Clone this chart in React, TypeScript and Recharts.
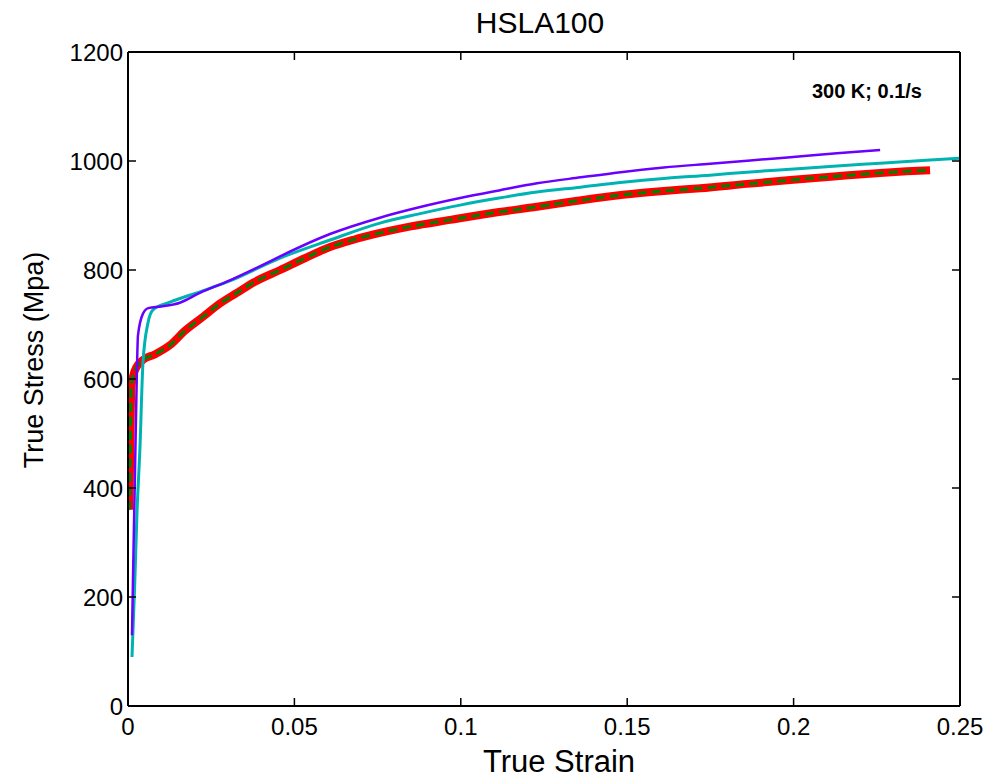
import React from "react"
import { LineChart, Line, XAxis, YAxis } from "recharts"

// experimental curve (thick red) and the model fit drawn over it (green dashes)
const expStrain = [0.0004, 0.0007, 0.001, 0.002, 0.0045, 0.008, 0.0126, 0.017, 0.0225, 0.0275, 0.0327, 0.038, 0.0457, 0.0533, 0.0607, 0.068, 0.0757, 0.085, 0.0968, 0.11, 0.1229, 0.135, 0.1487, 0.161, 0.172, 0.186, 0.199, 0.213, 0.226, 0.234, 0.241]
const expStress = [360, 480, 585, 615, 635, 645, 662, 688, 714, 738, 758, 778, 800, 822, 842, 856, 868, 880, 892, 905, 916, 927, 938, 945, 950, 958, 965, 972, 978, 981, 983]
const fitStress = [360, 480, 585, 615, 635, 645, 662, 688, 714, 738, 758, 778, 800, 822, 842, 856, 868, 880, 892, 905, 916, 927, 938, 945, 950, 958, 965, 972, 978, 981, 983]

const purpleStrain = [0.0012, 0.0017, 0.0021, 0.0025, 0.003, 0.0045, 0.0061, 0.01, 0.0156, 0.0216, 0.0306, 0.0427, 0.0457, 0.0607, 0.0757, 0.0875, 0.0998, 0.1115, 0.1229, 0.136, 0.1487, 0.161, 0.1749, 0.187, 0.199, 0.213, 0.226]
const purpleStress = [130, 300, 430, 560, 680, 720, 730, 733, 740, 758, 781, 816, 825, 866, 896, 915, 932, 946, 959, 970, 980, 988, 995, 1001, 1007, 1014, 1020]

const cyanStrain = [0.0012, 0.002, 0.0027, 0.0036, 0.0045, 0.006, 0.0075, 0.0126, 0.0216, 0.0306, 0.0457, 0.0607, 0.0757, 0.0875, 0.0998, 0.1115, 0.1229, 0.136, 0.1487, 0.161, 0.1749, 0.187, 0.199, 0.213, 0.226, 0.241, 0.25]
const cyanStress = [90, 220, 354, 475, 630, 703, 727, 741, 760, 780, 822, 855, 886, 903, 919, 932, 943, 952, 961, 968, 974, 980, 985, 991, 996, 1002, 1005]

const xTicks = [0, 0.05, 0.1, 0.15, 0.2, 0.25]
const yTicks = [0, 200, 400, 600, 800, 1000, 1200]

const zip = (xs: number[], ys: number[]) => xs.map((x, i) => ({ x, y: ys[i] }))

const font = "'Liberation Sans', Arial, sans-serif"
const axisLine = { stroke: "#000", strokeWidth: 2 }
const TICK_LEN = 8

// matlab-style ticks: short lines pointing into the plot, labels outside
function LeftTick({ x, y, payload }: any) {
  return (
    <g>
      <line x1={x + 5} x2={x + 5 + TICK_LEN} y1={y} y2={y} stroke="#000" strokeWidth={1.5} />
      <text x={x} y={y} dy="0.36em" textAnchor="end" fontSize={24} fontFamily={font} fill="#000">
        {payload.value}
      </text>
    </g>
  )
}

function BottomTick({ x, y, payload }: any) {
  return (
    <g>
      <line x1={x} x2={x} y1={y - 12} y2={y - 12 - TICK_LEN} stroke="#000" strokeWidth={1.5} />
      <text x={x} y={y} dy="0.71em" textAnchor="middle" fontSize={24} fontFamily={font} fill="#000">
        {String(Number(Number(payload.value).toFixed(2)))}
      </text>
    </g>
  )
}

function TopTick({ x, y }: any) {
  return <line x1={x} x2={x} y1={y} y2={y + TICK_LEN} stroke="#000" strokeWidth={1.5} />
}

function RightTick({ x, y }: any) {
  return <line x1={x} x2={x - TICK_LEN} y1={y} y2={y} stroke="#000" strokeWidth={1.5} />
}

export default function App() {
  return (
    <div style={{ position: "absolute", left: 0, top: 0, width: 986, height: 780, background: "#fff" }}>
      <LineChart width={986} height={780} margin={{ top: 0, right: 0, left: 0, bottom: 0 }}>
        <XAxis
          xAxisId="main"
          dataKey="x"
          type="number"
          domain={[0, 0.25]}
          ticks={xTicks}
          allowDataOverflow
          height={74}
          tickSize={0}
          tickMargin={12}
          axisLine={axisLine}
          tickLine={false}
          tick={<BottomTick />}
        />
        <XAxis
          xAxisId="top"
          orientation="top"
          dataKey="x"
          type="number"
          domain={[0, 0.25]}
          ticks={xTicks}
          allowDataOverflow
          height={52}
          tickSize={0}
          tickMargin={0}
          axisLine={axisLine}
          tickLine={false}
          tick={<TopTick />}
        />
        <YAxis
          yAxisId="main"
          type="number"
          domain={[0, 1200]}
          ticks={yTicks}
          allowDataOverflow
          width={128}
          tickSize={0}
          tickMargin={5}
          axisLine={axisLine}
          tickLine={false}
          tick={<LeftTick />}
        />
        <YAxis
          yAxisId="right"
          orientation="right"
          type="number"
          domain={[0, 1200]}
          ticks={yTicks}
          allowDataOverflow
          width={26}
          tickSize={0}
          tickMargin={0}
          axisLine={axisLine}
          tickLine={false}
          tick={<RightTick />}
        />
        <Line
          xAxisId="main"
          yAxisId="main"
          data={zip(expStrain, expStress)}
          dataKey="y"
          type="monotone"
          stroke="#ff0000"
          strokeWidth={8}
          dot={false}
          isAnimationActive={false}
        />
        <Line
          xAxisId="main"
          yAxisId="main"
          data={zip(expStrain, fitStress)}
          dataKey="y"
          type="monotone"
          stroke="#008000"
          strokeWidth={3}
          strokeDasharray="9 5"
          dot={false}
          isAnimationActive={false}
        />
        <Line
          xAxisId="main"
          yAxisId="main"
          data={zip(cyanStrain, cyanStress)}
          dataKey="y"
          type="monotone"
          stroke="#00b3b3"
          strokeWidth={3}
          dot={false}
          isAnimationActive={false}
        />
        <Line
          xAxisId="main"
          yAxisId="main"
          data={zip(purpleStrain, purpleStress)}
          dataKey="y"
          type="monotone"
          stroke="#6a00ff"
          strokeWidth={2.5}
          dot={false}
          isAnimationActive={false}
        />
      </LineChart>
      <svg width={986} height={780} style={{ position: "absolute", left: 0, top: 0, pointerEvents: "none" }}>
        <text x={540} y={33} textAnchor="middle" fontSize={30} fontFamily={font} fill="#000">
          HSLA100
        </text>
        <text x={559} y={772} textAnchor="middle" fontSize={31} fontFamily={font} fill="#000">
          True Strain
        </text>
        <text transform="translate(43,360) rotate(-90)" textAnchor="middle" fontSize={27} fontFamily={font} fill="#000">
          True Stress (Mpa)
        </text>
        <text x={922} y={98} textAnchor="end" fontSize={20} fontWeight="bold" fontFamily={font} fill="#000">
          300 K; 0.1/s
        </text>
      </svg>
    </div>
  )
}
